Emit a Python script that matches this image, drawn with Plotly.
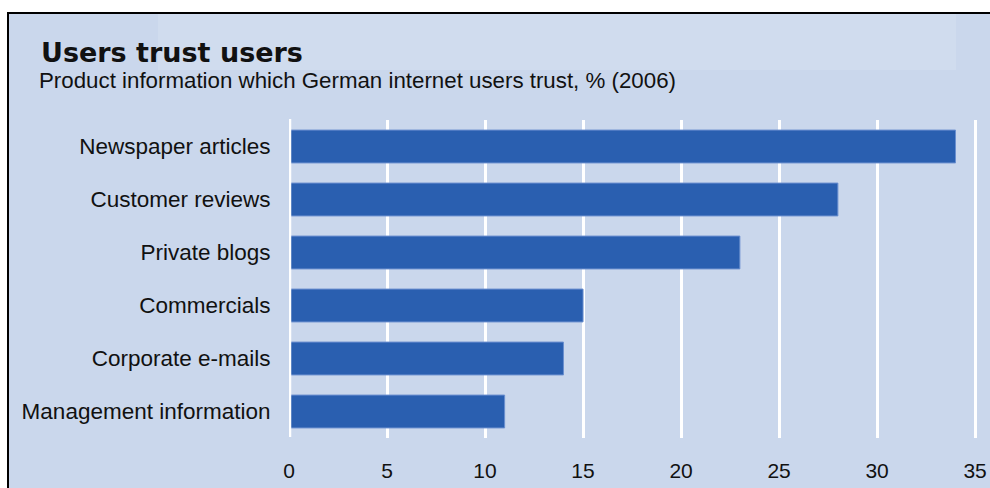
import plotly.graph_objects as go

# Share of German internet users trusting each source, % (2006)
categories = [
    "Newspaper articles",
    "Customer reviews",
    "Private blogs",
    "Commercials",
    "Corporate e-mails",
    "Management information",
]
values = [34, 28, 23, 15, 14, 11]
tick_values = [0, 5, 10, 15, 20, 25, 30, 35]
tick_labels = ["0", "5", "10", "15", "20", "25", "30", "35"]

W, H = 990, 488
ML, MR, MT, MB = 289, 10, 120, 50
PW, PH = W - ML - MR, H - MT - MB

BG = "#cad7ec"
BAR = "#2a5fb0"


def px(x):
    return (x - ML) / PW


def py(y):
    return (H - MB - y) / PH


fig = go.Figure(
    go.Bar(
        x=values,
        y=categories,
        orientation="h",
        marker=dict(color=BAR, line=dict(color="#6a8fcf", width=1)),
        hoverinfo="x+y",
    )
)

fig.update_layout(
    width=W,
    height=H,
    margin=dict(l=ML, r=MR, t=MT, b=MB, pad=0),
    paper_bgcolor="white",
    plot_bgcolor="rgba(0,0,0,0)",
    showlegend=False,
    bargap=0.38,
    font=dict(family="Liberation Sans, Arial, sans-serif", color="#111111"),
    xaxis=dict(
        range=[0, 35.25],
        tickvals=tick_values,
        ticktext=tick_labels,
        showgrid=True,
        gridcolor="white",
        gridwidth=2.8,
        zeroline=False,
        showline=False,
        ticks="outside",
        ticklen=14,
        tickcolor="rgba(0,0,0,0)",
        tickfont=dict(size=21, family="Liberation Sans Narrow, Liberation Sans, Arial", color="#111111"),
        automargin=False,
        fixedrange=True,
    ),
    yaxis=dict(
        categoryorder="array",
        categoryarray=categories,
        autorange="reversed",
        showgrid=False,
        zeroline=False,
        ticks="outside",
        ticklen=13,
        tickcolor="rgba(0,0,0,0)",
        tickfont=dict(size=22.5, color="#111111"),
        automargin=False,
        fixedrange=True,
    ),
    shapes=[
        # panel background with black frame on the top and left
        dict(
            type="rect", xref="paper", yref="paper", layer="below",
            x0=px(8), x1=px(1000), y0=py(500), y1=py(13),
            fillcolor=BG, line=dict(color="black", width=2),
        ),
        # faint lighter band behind the heading
        dict(
            type="rect", xref="paper", yref="paper", layer="below",
            x0=px(158), x1=px(956), y0=py(70), y1=py(14),
            fillcolor="rgba(255,255,255,0.13)", line=dict(width=0),
        ),
        # white baseline at zero, drawn over the bar ends
        dict(
            type="line", xref="x", yref="paper", layer="above",
            x0=0, x1=0, y0=py(437), y1=py(119),
            line=dict(color="white", width=4.5),
        ),
    ],
    annotations=[
        dict(
            text="<b>Users trust users</b>", xref="paper", yref="paper",
            x=px(39), y=py(52), xanchor="left", yanchor="middle", showarrow=False,
            font=dict(size=27, family="DejaVu Sans, Liberation Sans, Arial", color="#111111"),
        ),
        dict(
            text="Product information which German internet users trust, % (2006)",
            xref="paper", yref="paper",
            x=px(37), y=py(81), xanchor="left", yanchor="middle", showarrow=False,
            font=dict(size=22.3, family="Liberation Sans, Arial", color="#111111"),
        ),
    ],
)

fig.write_html("out.html")
